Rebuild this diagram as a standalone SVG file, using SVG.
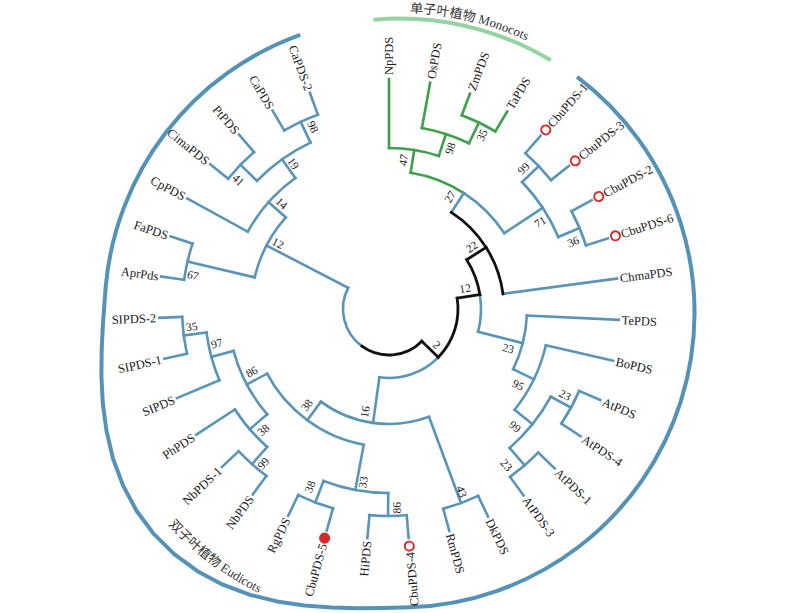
<svg xmlns="http://www.w3.org/2000/svg" width="800" height="613" viewBox="0 0 800 613">
<style>
.b{fill:none;stroke:#5a95b8;stroke-width:2.6;stroke-linecap:square}
.k{fill:none;stroke:#111;stroke-width:2.8;stroke-linecap:square}
.g{fill:none;stroke:#3f9f4c;stroke-width:2.6;stroke-linecap:square}
.lbl{font-family:"Liberation Serif","Times New Roman",serif;font-size:12.5px;fill:#1a1a1a}
.fl{text-anchor:end}
.bs{font-family:"Liberation Serif","Times New Roman",serif;font-size:11.5px;fill:#1a1a1a;text-anchor:middle}
.mo{fill:#fff;stroke:#d42a2a;stroke-width:2}
.mf{fill:#d42a2a}
.grp{font-family:"Liberation Serif","Noto Sans CJK SC",serif;font-size:13px;fill:#333}
</style>
<defs>
<path id="monoPath" d="M410.1,12.7 A300,300 0 0 1 549.6,52.7"/>
<path id="dicotPath" d="M166.3,522.6 A314,314 0 0 0 345.1,621.7"/>
</defs>
<rect width="800" height="613" fill="#fff"/>

<g id="clade-arcs">
<path d="M577.1,76.9 A295,295 0 0 1 409.9,607.3 L384.1,608 L358,608.3 L331.5,607.6 L304.4,605.5 L277,601.4 L249.5,594.7 L222.8,584.7 L197.5,571.2 L174.2,554.2 L153.7,533.9 L136.5,510.7 L123,485.4 L113,458.6 L106.5,430.9 L102.8,403.3 L101.4,375.9 L101.7,349.1 L103,322.9 L104.9,297.1 L105.7,286.8 A295,295 0 0 1 300.2,34.8" fill="none" stroke="#5592b8" stroke-width="4" stroke-linejoin="round"/>
<path d="M373.5,19.7 A294,294 0 0 1 550.6,60.2" fill="none" stroke="#96d3a3" stroke-width="4"/>
<text class="grp"><textPath href="#monoPath">单子叶植物 Monocots</textPath></text>
<text class="grp"><textPath href="#dicotPath" startOffset="3">双子叶植物 Eudicots</textPath></text>
</g>

<g id="connectors" transform="translate(389,309)">
<circle class="g" r="207" stroke-dasharray="37.21 2000" transform="rotate(-69.4)"/>
<circle class="g" r="184" stroke-dasharray="49.62 2000" transform="rotate(-79.7)"/>
<circle class="g" r="161" stroke-dasharray="50.65 2000" transform="rotate(-90)"/>
<circle class="g" r="138" stroke-dasharray="57.37 2000" transform="rotate(-80.99)"/>
<circle class="b" r="138" stroke-dasharray="57.37 2000" transform="rotate(-57.17)"/>
<circle class="b" r="207" stroke-dasharray="37.21 2000" transform="rotate(-48.8)"/>
<circle class="b" r="207" stroke-dasharray="37.21 2000" transform="rotate(-28.2)"/>
<circle class="b" r="184" stroke-dasharray="66.16 2000" transform="rotate(-43.65)"/>
<circle class="b" r="92" stroke-dasharray="37.47 2000" transform="rotate(-9.05)"/>
<circle class="b" r="138" stroke-dasharray="55.82 2000" transform="rotate(2.7)"/>
<circle class="b" r="161" stroke-dasharray="72.36 2000" transform="rotate(13)"/>
<circle class="b" r="184" stroke-dasharray="66.16 2000" transform="rotate(28.45)"/>
<circle class="b" r="207" stroke-dasharray="37.21 2000" transform="rotate(23.3)"/>
<circle class="b" r="207" stroke-dasharray="37.21 2000" transform="rotate(43.9)"/>
<circle class="b" r="69" stroke-dasharray="64.45 2000" transform="rotate(44.46)"/>
<circle class="b" r="115" stroke-dasharray="113.70 2000" transform="rotate(69.65)"/>
<circle class="b" r="207" stroke-dasharray="37.21 2000" transform="rotate(64.5)"/>
<circle class="b" r="138" stroke-dasharray="124.04 2000" transform="rotate(100.55)"/>
<circle class="b" r="184" stroke-dasharray="66.16 2000" transform="rotate(90.25)"/>
<circle class="b" r="207" stroke-dasharray="37.21 2000" transform="rotate(85.1)"/>
<circle class="b" r="207" stroke-dasharray="37.21 2000" transform="rotate(105.7)"/>
<circle class="b" r="161" stroke-dasharray="72.36 2000" transform="rotate(139.175)"/>
<circle class="b" r="184" stroke-dasharray="49.62 2000" transform="rotate(131.45)"/>
<circle class="b" r="207" stroke-dasharray="37.21 2000" transform="rotate(126.3)"/>
<circle class="b" r="184" stroke-dasharray="49.62 2000" transform="rotate(157.2)"/>
<circle class="b" r="207" stroke-dasharray="37.21 2000" transform="rotate(167.5)"/>
<circle class="b" r="46" stroke-dasharray="65.41 2000" transform="rotate(125.94)"/>
<circle class="b" r="138" stroke-dasharray="68.22 2000" transform="rotate(193.25)"/>
<circle class="b" r="207" stroke-dasharray="37.21 2000" transform="rotate(188.1)"/>
<circle class="b" r="161" stroke-dasharray="72.36 2000" transform="rotate(208.7)"/>
<circle class="b" r="184" stroke-dasharray="66.16 2000" transform="rotate(224.15)"/>
<circle class="b" r="207" stroke-dasharray="37.21 2000" transform="rotate(219)"/>
<circle class="b" r="207" stroke-dasharray="37.21 2000" transform="rotate(239.6)"/>
<line class="g" x1="161" x2="230" transform="rotate(-90)"/>
<line class="g" x1="184" x2="230" transform="rotate(-79.7)"/>
<line class="g" x1="207" x2="230" transform="rotate(-69.4)"/>
<line class="g" x1="207" x2="230" transform="rotate(-59.1)"/>
<line class="b" x1="207" x2="230" transform="rotate(-48.8)"/>
<line class="b" x1="207" x2="230" transform="rotate(-38.5)"/>
<line class="b" x1="207" x2="230" transform="rotate(-28.2)"/>
<line class="b" x1="207" x2="230" transform="rotate(-17.9)"/>
<line class="b" x1="115" x2="230" transform="rotate(-7.6)"/>
<line class="b" x1="138" x2="230" transform="rotate(2.7)"/>
<line class="b" x1="161" x2="230" transform="rotate(13)"/>
<line class="b" x1="207" x2="230" transform="rotate(23.3)"/>
<line class="b" x1="207" x2="230" transform="rotate(33.6)"/>
<line class="b" x1="207" x2="230" transform="rotate(43.9)"/>
<line class="b" x1="207" x2="230" transform="rotate(54.2)"/>
<line class="b" x1="207" x2="230" transform="rotate(64.5)"/>
<line class="b" x1="207" x2="230" transform="rotate(74.8)"/>
<line class="b" x1="207" x2="230" transform="rotate(85.1)"/>
<line class="b" x1="207" x2="230" transform="rotate(95.4)"/>
<line class="b" x1="207" x2="230" transform="rotate(105.7)"/>
<line class="b" x1="207" x2="230" transform="rotate(116)"/>
<line class="b" x1="207" x2="230" transform="rotate(126.3)"/>
<line class="b" x1="207" x2="230" transform="rotate(136.6)"/>
<line class="b" x1="184" x2="230" transform="rotate(146.9)"/>
<line class="b" x1="184" x2="230" transform="rotate(157.2)"/>
<line class="b" x1="207" x2="230" transform="rotate(167.5)"/>
<line class="b" x1="207" x2="230" transform="rotate(177.8)"/>
<line class="b" x1="207" x2="230" transform="rotate(188.1)"/>
<line class="b" x1="207" x2="230" transform="rotate(198.4)"/>
<line class="b" x1="161" x2="230" transform="rotate(208.7)"/>
<line class="b" x1="207" x2="230" transform="rotate(219)"/>
<line class="b" x1="207" x2="230" transform="rotate(229.3)"/>
<line class="b" x1="207" x2="230" transform="rotate(239.6)"/>
<line class="b" x1="207" x2="230" transform="rotate(249.9)"/>
<line class="g" x1="184" x2="207" transform="rotate(-64.25)"/>
<line class="g" x1="161" x2="184" transform="rotate(-71.975)"/>
<line class="g" x1="138" x2="161" transform="rotate(-80.99)"/>
<line class="b" x1="184" x2="207" transform="rotate(-43.65)"/>
<line class="b" x1="184" x2="207" transform="rotate(-23.05)"/>
<line class="b" x1="138" x2="184" transform="rotate(-33.35)"/>
<line class="b" x1="115" x2="138" transform="rotate(-57.17)"/>
<line class="b" x1="184" x2="207" transform="rotate(28.45)"/>
<line class="b" x1="184" x2="207" transform="rotate(49.05)"/>
<line class="b" x1="161" x2="184" transform="rotate(38.75)"/>
<line class="b" x1="138" x2="161" transform="rotate(25.875)"/>
<line class="b" x1="92" x2="138" transform="rotate(14.29)"/>
<line class="b" x1="115" x2="207" transform="rotate(69.65)"/>
<line class="b" x1="184" x2="207" transform="rotate(90.25)"/>
<line class="b" x1="184" x2="207" transform="rotate(110.85)"/>
<line class="b" x1="138" x2="184" transform="rotate(100.55)"/>
<line class="b" x1="184" x2="207" transform="rotate(131.45)"/>
<line class="b" x1="161" x2="184" transform="rotate(139.175)"/>
<line class="b" x1="184" x2="207" transform="rotate(172.65)"/>
<line class="b" x1="161" x2="184" transform="rotate(164.925)"/>
<line class="b" x1="138" x2="161" transform="rotate(152.05)"/>
<line class="b" x1="115" x2="138" transform="rotate(126.3)"/>
<line class="b" x1="69" x2="115" transform="rotate(97.975)"/>
<line class="b" x1="138" x2="207" transform="rotate(193.25)"/>
<line class="b" x1="184" x2="207" transform="rotate(224.15)"/>
<line class="b" x1="184" x2="207" transform="rotate(244.75)"/>
<line class="b" x1="161" x2="184" transform="rotate(234.45)"/>
<line class="b" x1="138" x2="161" transform="rotate(221.575)"/>
<line class="b" x1="46" x2="138" transform="rotate(207.41)"/>
<circle class="k" r="115" stroke-dasharray="99.49 2000" transform="rotate(-57.17)"/>
<circle class="k" r="92" stroke-dasharray="37.47 2000" transform="rotate(-32.385)"/>
<circle class="k" r="69" stroke-dasharray="64.44 2000" transform="rotate(-9.05)"/>
<circle class="k" r="46" stroke-dasharray="65.42 2000" transform="rotate(44.46)"/>
<line class="k" x1="92" x2="115" transform="rotate(-32.385)"/>
<line class="k" x1="69" x2="92" transform="rotate(-9.05)"/>
<line class="k" x1="46" x2="69" transform="rotate(44.46)"/>
<g id="support">
<text class="bs" dy=".35em" transform="rotate(-84.5) translate(149.7,0) rotate(3.5)">47</text>
<text class="bs" dy=".35em" transform="rotate(-69.2) translate(171.9,0) rotate(-2.8)">98</text>
<text class="bs" dy=".35em" transform="rotate(-61.9) translate(197.2,0) rotate(-2.35)">35</text>
<text class="bs" dy=".35em" transform="rotate(-61.5) translate(127.8,0) rotate(4.33)">27</text>
<text class="bs" dy=".35em" transform="rotate(-46.3) translate(194.5,0) rotate(2.65)">99</text>
<text class="bs" dy=".35em" transform="rotate(-30) translate(174.4,0) rotate(-3.35)">71</text>
<text class="bs" dy=".35em" transform="rotate(-20.1) translate(196.2,0) rotate(-2.95)">36</text>
<text class="bs" dy=".35em" transform="rotate(-37) translate(103.5,0) rotate(4.6)">22</text>
<text class="bs" dy=".35em" transform="rotate(-15.2) translate(78.8,0) rotate(6.15)">12</text>
<text class="bs" dy=".35em" transform="rotate(37) translate(59.8,0) rotate(7.46)">2</text>
<text class="bs" dy=".35em" transform="rotate(18.2) translate(125.6,0) rotate(-3.91)">23</text>
<text class="bs" dy=".35em" transform="rotate(30.4) translate(150,0) rotate(-4.52)">95</text>
<text class="bs" dy=".35em" transform="rotate(43) translate(172.4,0) rotate(-4.25)">99</text>
<text class="bs" dy=".35em" transform="rotate(26) translate(195.9,0) rotate(2.45)">23</text>
<text class="bs" dy=".35em" transform="rotate(53) translate(195.4,0) rotate(-3.95)">23</text>
<text class="bs" dy=".35em" transform="rotate(68.3) translate(196.6,0) rotate(1.35)">43</text>
<text class="bs" dy=".35em" transform="rotate(87.8) translate(199,0) rotate(-177.55)">86</text>
<text class="bs" dy=".35em" transform="rotate(98.5) translate(175,0) rotate(-177.95)">33</text>
<text class="bs" dy=".35em" transform="rotate(114) translate(194.5,0) rotate(-183.15)">38</text>
<text class="bs" dy=".35em" transform="rotate(103.2) translate(105.5,0) rotate(-185.22)">16</text>
<text class="bs" dy=".35em" transform="rotate(130.6) translate(126.5,0) rotate(-184.3)">38</text>
<text class="bs" dy=".35em" transform="rotate(155.5) translate(151,0) rotate(-183.45)">86</text>
<text class="bs" dy=".35em" transform="rotate(168.7) translate(175.7,0) rotate(-183.78)">97</text>
<text class="bs" dy=".35em" transform="rotate(174.9) translate(198.1,0) rotate(-182.25)">35</text>
<text class="bs" dy=".35em" transform="rotate(136.1) translate(174.5,0) rotate(-176.92)">38</text>
<text class="bs" dy=".35em" transform="rotate(129.2) translate(199,0) rotate(-177.75)">99</text>
<text class="bs" dy=".35em" transform="rotate(189.8) translate(198.9,0) rotate(-176.55)">67</text>
<text class="bs" dy=".35em" transform="rotate(210.7) translate(129.1,0) rotate(-183.29)">12</text>
<text class="bs" dy=".35em" transform="rotate(224.6) translate(150.6,0) rotate(-183.02)">14</text>
<text class="bs" dy=".35em" transform="rotate(236.7) translate(174.3,0) rotate(-182.25)">19</text>
<text class="bs" dy=".35em" transform="rotate(220.6) translate(198.4,0) rotate(-176.45)">41</text>
<text class="bs" dy=".35em" transform="rotate(247.4) translate(197.4,0) rotate(-182.65)">98</text>
</g>
</g>

<g id="leaves" transform="translate(389,309)">
<g id="NpPDS"><text class="lbl" dy=".35em" transform="rotate(-90) translate(234,0)">NpPDS</text></g>
<g id="OsPDS"><text class="lbl" dy=".35em" transform="rotate(-79.7) translate(234,0)">OsPDS</text></g>
<g id="ZmPDS"><text class="lbl" dy=".35em" transform="rotate(-69.4) translate(234,0)">ZmPDS</text></g>
<g id="TaPDS"><text class="lbl" dy=".35em" transform="rotate(-59.1) translate(234,0)">TaPDS</text></g>
<g id="CbuPDS-1"><circle class="mo" cx="238" cy="0" r="4.5" transform="rotate(-48.8)"/><text class="lbl" dy=".35em" transform="rotate(-48.8) translate(244,0)">CbuPDS-1</text></g>
<g id="CbuPDS-3"><circle class="mo" cx="238" cy="0" r="4.5" transform="rotate(-38.5)"/><text class="lbl" dy=".35em" transform="rotate(-38.5) translate(244,0)">CbuPDS-3</text></g>
<g id="CbuPDS-2"><circle class="mo" cx="238" cy="0" r="4.5" transform="rotate(-28.2)"/><text class="lbl" dy=".35em" transform="rotate(-28.2) translate(244,0)">CbuPDS-2</text></g>
<g id="CbuPDS-6"><circle class="mo" cx="238" cy="0" r="4.5" transform="rotate(-17.9)"/><text class="lbl" dy=".35em" transform="rotate(-17.9) translate(244,0)">CbuPDS-6</text></g>
<g id="ChmaPDS"><text class="lbl" dy=".35em" transform="rotate(-7.6) translate(233,0)">ChmaPDS</text></g>
<g id="TePDS"><text class="lbl" dy=".35em" transform="rotate(2.7) translate(233,0)">TePDS</text></g>
<g id="BoPDS"><text class="lbl" dy=".35em" transform="rotate(13) translate(233,0)">BoPDS</text></g>
<g id="AtPDS"><text class="lbl" dy=".35em" transform="rotate(23.3) translate(233,0)">AtPDS</text></g>
<g id="AtPDS-4"><text class="lbl" dy=".35em" transform="rotate(33.6) translate(233,0)">AtPDS-4</text></g>
<g id="AtPDS-1"><text class="lbl" dy=".35em" transform="rotate(43.9) translate(233,0)">AtPDS-1</text></g>
<g id="AtPDS-3"><text class="lbl" dy=".35em" transform="rotate(54.2) translate(233,0)">AtPDS-3</text></g>
<g id="DkPDS"><text class="lbl" dy=".35em" transform="rotate(64.5) translate(233,0)">DkPDS</text></g>
<g id="RmPDS"><text class="lbl" dy=".35em" transform="rotate(74.8) translate(233,0)">RmPDS</text></g>
<g id="CbuPDS-4"><circle class="mo" cx="238" cy="0" r="4.5" transform="rotate(85.1)"/><text class="lbl fl" dy=".35em" transform="rotate(85.1) translate(244,0) rotate(180)">CbuPDS-4</text></g>
<g id="HiPDS"><text class="lbl fl" dy=".35em" transform="rotate(95.4) translate(233,0) rotate(180)">HiPDS</text></g>
<g id="CbuPDS-5"><circle class="mf" cx="238" cy="0" r="5.5" transform="rotate(105.7)"/><text class="lbl fl" dy=".35em" transform="rotate(105.7) translate(244,0) rotate(180)">CbuPDS-5</text></g>
<g id="RgPDS"><text class="lbl fl" dy=".35em" transform="rotate(116) translate(233,0) rotate(180)">RgPDS</text></g>
<g id="NbPDS"><text class="lbl fl" dy=".35em" transform="rotate(126.3) translate(233,0) rotate(180)">NbPDS</text></g>
<g id="NbPDS-1"><text class="lbl fl" dy=".35em" transform="rotate(136.6) translate(233,0) rotate(180)">NbPDS-1</text></g>
<g id="PhPDS"><text class="lbl fl" dy=".35em" transform="rotate(146.9) translate(233,0) rotate(180)">PhPDS</text></g>
<g id="SIPDS"><text class="lbl fl" dy=".35em" transform="rotate(157.2) translate(233,0) rotate(180)">SIPDS</text></g>
<g id="SIPDS-1"><text class="lbl fl" dy=".35em" transform="rotate(167.5) translate(233,0) rotate(180)">SIPDS-1</text></g>
<g id="SIPDS-2"><text class="lbl fl" dy=".35em" transform="rotate(177.8) translate(233,0) rotate(180)">SIPDS-2</text></g>
<g id="AprPds"><text class="lbl fl" dy=".35em" transform="rotate(188.1) translate(233,0) rotate(180)">AprPds</text></g>
<g id="FaPDS"><text class="lbl fl" dy=".35em" transform="rotate(198.4) translate(233,0) rotate(180)">FaPDS</text></g>
<g id="CpPDS"><text class="lbl fl" dy=".35em" transform="rotate(208.7) translate(233,0) rotate(180)">CpPDS</text></g>
<g id="CimaPDS"><text class="lbl fl" dy=".35em" transform="rotate(219) translate(233,0) rotate(180)">CimaPDS</text></g>
<g id="PtPDS"><text class="lbl fl" dy=".35em" transform="rotate(229.3) translate(233,0) rotate(180)">PtPDS</text></g>
<g id="CaPDS"><text class="lbl fl" dy=".35em" transform="rotate(239.6) translate(233,0) rotate(180)">CaPDS</text></g>
<g id="CaPDS-2"><text class="lbl fl" dy=".35em" transform="rotate(249.9) translate(233,0) rotate(180)">CaPDS-2</text></g>
</g>
</svg>
